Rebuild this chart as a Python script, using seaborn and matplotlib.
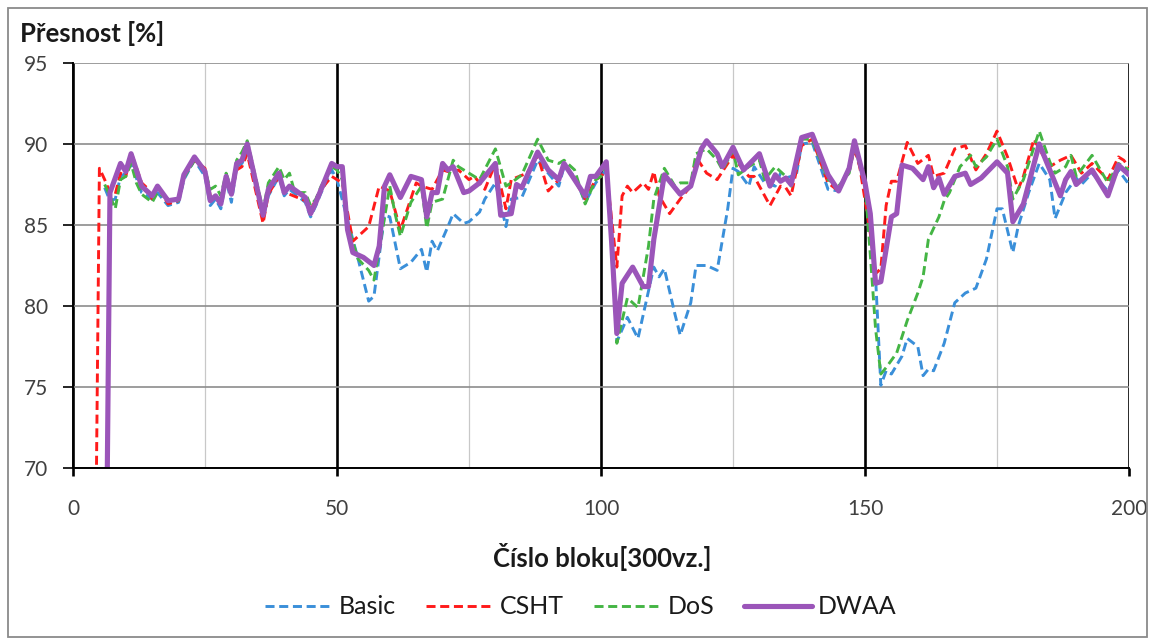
import matplotlib
matplotlib.use("Agg")
import matplotlib.pyplot as plt
import pandas as pd
import seaborn as sns
from matplotlib.lines import Line2D
from matplotlib.patches import Rectangle

# (číslo bloku, přesnost %)
basic = [
    (6, 87.3), (7, 86.5), (8, 86.6), (9, 88.0), (10, 88.2), (11, 88.8), (13, 87.0), (15, 86.6),
    (16, 87.0), (18, 86.2), (20, 86.4), (21, 87.8), (23, 89.0), (25, 88.0), (26, 86.2), (27, 86.6),
    (28, 86.0), (29, 87.8), (30, 86.4), (31, 88.6), (32, 88.8), (33, 89.6), (36, 85.4), (37, 86.8),
    (39, 88.0), (40, 86.8), (41, 87.2), (44, 86.4), (45, 85.5), (46, 86.2), (47, 87.0), (49, 88.4),
    (50, 87.8), (52, 85.3), (54, 82.9), (56, 80.3), (57, 80.6), (59, 85.6), (60, 85.5), (62, 82.3),
    (64, 82.7), (66, 83.5), (67, 82.1), (68, 84.0), (69, 83.4), (71, 84.9), (72, 85.7), (74, 85.1),
    (75, 85.2), (77, 85.8), (78, 86.6), (80, 87.6), (82, 84.9), (83, 86.6), (85, 86.7), (88, 89.0),
    (90, 88.2), (92, 87.4), (93, 88.6), (95, 88.0), (97, 86.4), (99, 87.6), (100, 88.0), (101, 88.4),
    (102, 84.9), (103, 77.8), (105, 79.3), (107, 78.0), (110, 82.4), (111, 81.8), (112, 82.3),
    (114, 79.5), (115, 78.2), (117, 80.2), (118, 82.5), (120, 82.5), (122, 82.2), (124, 86.0),
    (125, 88.5), (126, 88.3), (128, 87.4), (129, 88.6), (131, 87.6), (133, 87.4), (134, 88.2),
    (135, 87.9), (137, 88.1), (138, 90.0), (140, 90.1), (143, 87.2), (145, 87.1), (147, 88.6),
    (148, 89.9), (150, 87.4), (152, 81.8), (153, 75.1), (154, 76.0), (155, 75.8), (157, 76.9),
    (158, 78.0), (160, 77.5), (161, 75.7), (162, 76.1), (163, 76.0), (165, 77.7), (167, 80.2),
    (169, 80.8), (171, 81.1), (173, 82.9), (175, 86.0), (176, 86.0), (178, 83.3), (179, 84.9),
    (181, 87.0), (183, 88.8), (185, 87.8), (186, 85.4), (188, 87.0), (190, 87.9), (191, 87.5),
    (193, 88.2), (196, 87.1), (198, 88.4), (200, 87.5),
]

csht = [
    (4, 55.0), (5, 88.5), (6, 87.8), (7, 87.0), (8, 86.9), (9, 88.2), (10, 88.0), (11, 89.5),
    (13, 87.6), (14, 87.3), (15, 86.6), (16, 87.5), (18, 86.3), (20, 86.5), (21, 88.0), (23, 89.0),
    (25, 88.5), (26, 86.8), (27, 86.5), (28, 86.6), (29, 87.6), (30, 87.0), (31, 88.4), (32, 88.6),
    (33, 89.4), (36, 85.1), (37, 86.9), (39, 88.0), (40, 87.2), (41, 86.9), (44, 86.5), (45, 85.9),
    (46, 86.6), (47, 87.2), (49, 88.0), (50, 87.8), (51, 87.6), (53, 84.0), (54, 84.3), (56, 84.9),
    (58, 87.4), (60, 87.1), (62, 84.7), (65, 87.6), (66, 87.4), (68, 87.2), (70, 88.4), (72, 88.2),
    (73, 88.4), (75, 87.8), (76, 88.0), (78, 87.2), (80, 88.8), (82, 86.0), (83, 87.8), (86, 88.2),
    (88, 89.3), (90, 87.1), (92, 87.8), (93, 88.7), (95, 87.8), (97, 86.6), (99, 87.8), (100, 88.0),
    (101, 88.4), (103, 82.4), (104, 86.8), (105, 87.4), (106, 87.0), (108, 87.6), (109, 87.2),
    (110, 88.3), (111, 86.8), (113, 85.7), (115, 86.6), (117, 87.4), (118, 89.2), (120, 88.2),
    (122, 87.8), (125, 89.3), (126, 88.8), (128, 88.0), (129, 88.0), (132, 86.2), (134, 87.4),
    (135, 87.3), (136, 86.8), (138, 89.9), (140, 90.3), (143, 87.6), (145, 87.1), (147, 88.4),
    (148, 89.7), (149, 88.6), (151, 84.5), (152, 82.0), (153, 82.3), (154, 86.2), (155, 87.7),
    (156, 87.7), (158, 90.1), (160, 88.8), (162, 89.3), (163, 88.0), (165, 88.2), (167, 89.7),
    (169, 89.9), (171, 88.4), (173, 89.4), (175, 90.8), (177, 89.2), (179, 87.2), (180, 88.0),
    (182, 90.3), (183, 89.7), (185, 88.6), (187, 89.0), (189, 89.3), (191, 88.2), (193, 88.8),
    (196, 87.8), (198, 89.2), (199, 89.0), (200, 88.6),
]

dos = [
    (6, 87.5), (7, 86.8), (8, 86.0), (9, 87.8), (10, 88.0), (11, 88.8), (12, 87.6), (13, 86.9),
    (15, 86.4), (16, 87.0), (18, 86.6), (20, 86.5), (21, 87.9), (23, 89.0), (25, 88.4), (26, 87.2),
    (27, 87.4), (28, 86.8), (29, 88.2), (30, 87.2), (31, 89.0), (32, 89.5), (33, 90.2), (36, 85.9),
    (37, 87.6), (39, 88.6), (40, 87.8), (41, 88.2), (42, 87.0), (44, 87.0), (45, 86.2), (46, 86.6),
    (47, 87.4), (49, 88.6), (50, 88.4), (51, 87.8), (52, 85.0), (54, 82.9), (56, 82.2), (57, 81.6),
    (58, 83.5), (60, 87.4), (61, 85.7), (62, 84.3), (64, 86.4), (66, 87.4), (67, 84.8), (68, 86.4),
    (70, 86.6), (71, 87.8), (72, 89.0), (73, 88.6), (75, 88.2), (77, 87.8), (80, 89.7), (82, 87.4),
    (83, 87.6), (85, 88.1), (88, 90.3), (90, 89.0), (92, 88.8), (93, 89.0), (95, 88.4), (97, 86.3),
    (99, 87.8), (100, 88.0), (101, 88.6), (102, 84.5), (103, 77.7), (105, 80.5), (107, 79.9),
    (109, 83.7), (110, 86.6), (112, 88.5), (114, 87.4), (115, 87.6), (117, 87.6), (118, 89.4),
    (120, 89.7), (122, 89.0), (123, 88.4), (125, 89.6), (126, 88.1), (128, 88.6), (130, 89.0),
    (131, 87.8), (133, 88.6), (135, 88.0), (136, 87.4), (138, 90.3), (140, 90.3), (143, 87.8),
    (145, 87.4), (147, 88.2), (148, 89.9), (150, 87.5), (151, 83.2), (152, 78.6), (153, 75.8),
    (154, 76.2), (156, 77.1), (158, 79.1), (160, 80.8), (161, 81.8), (162, 84.1), (164, 85.5),
    (165, 86.5), (166, 87.0), (168, 88.6), (170, 89.3), (171, 88.6), (173, 89.2), (175, 90.3),
    (177, 88.6), (178, 86.6), (180, 87.8), (183, 90.8), (185, 88.9), (186, 88.2), (188, 88.6),
    (189, 89.3), (190, 88.0), (193, 89.3), (196, 87.6), (198, 88.8), (200, 88.4),
]

dwaa = [
    (6, 53.0), (7, 87.0), (9, 88.8), (10, 88.3), (11, 89.4), (13, 87.4), (15, 86.8), (16, 87.4),
    (18, 86.5), (20, 86.6), (21, 88.1), (23, 89.2), (25, 88.3), (26, 86.5), (27, 86.8), (28, 86.3),
    (29, 88.0), (30, 86.9), (31, 88.8), (32, 89.0), (33, 90.0), (36, 85.6), (37, 87.2), (39, 88.2),
    (40, 87.0), (41, 87.4), (44, 86.7), (45, 85.7), (46, 86.4), (47, 87.2), (49, 88.8), (50, 88.6),
    (51, 88.6), (52, 84.7), (53, 83.3), (55, 83.0), (57, 82.5), (58, 83.7), (59, 87.4), (60, 88.1),
    (62, 86.7), (64, 88.0), (66, 87.8), (67, 85.5), (68, 87.0), (69, 87.0), (70, 88.8), (71, 88.4),
    (72, 88.6), (74, 87.0), (75, 87.1), (77, 87.6), (80, 88.8), (81, 85.6), (83, 85.7), (84, 87.5),
    (85, 87.3), (88, 89.5), (90, 88.4), (92, 87.8), (93, 88.8), (95, 87.8), (97, 86.8), (98, 88.0),
    (99, 88.0), (101, 88.9), (102, 84.0), (103, 78.3), (104, 81.4), (106, 82.4), (108, 81.2),
    (109, 81.2), (110, 84.1), (112, 88.1), (114, 87.3), (115, 86.9), (117, 87.4), (119, 89.7),
    (120, 90.2), (122, 89.4), (123, 88.6), (125, 89.8), (127, 88.4), (130, 89.4), (132, 87.4),
    (133, 88.1), (134, 87.7), (135, 87.9), (136, 87.5), (138, 90.4), (140, 90.6), (143, 88.1),
    (145, 87.1), (147, 88.5), (148, 90.2), (150, 87.6), (151, 85.7), (152, 81.4), (153, 81.5),
    (155, 85.5), (156, 85.7), (157, 88.7), (159, 88.5), (161, 87.8), (162, 88.6), (163, 87.3),
    (164, 87.9), (165, 86.9), (167, 88.0), (169, 88.2), (170, 87.5), (172, 87.9), (175, 88.9),
    (177, 88.2), (178, 85.2), (180, 86.3), (183, 90.0), (185, 88.4), (187, 86.8), (188, 87.8),
    (189, 88.3), (190, 87.5), (193, 88.4), (196, 86.8), (198, 88.7), (200, 88.1),
]

metody = ["Basic", "CSHT", "DoS", "DWAA"]
barvy = {"Basic": "#3a8fd9", "CSHT": "#ff1a1a", "DoS": "#44b544", "DWAA": "#9b55b9"}
carkovane = (0, (3.1, 1.6))

sns.set_style("white")
plt.rcParams["font.family"] = ["Lato", "DejaVu Sans"]

W, H = 1151, 642
fig = plt.figure(figsize=(W / 100, H / 100), dpi=100)
ax = fig.add_axes([73 / W, 1 - 468 / H, (1129 - 73) / W, (468 - 63) / H])

frames = []
for name, pts in zip(metody, [basic, csht, dos, dwaa]):
    df = pd.DataFrame(pts, columns=["blok", "presnost"])
    df["metoda"] = name
    frames.append(df)
data = pd.concat(frames, ignore_index=True)

handles = []
for name in metody:
    sub = data[data["metoda"] == name]
    if name == "DWAA":
        ls, lw = "-", 3.7
    else:
        ls, lw = carkovane, 2.1
    sns.lineplot(
        data=sub, x="blok", y="presnost", ax=ax, color=barvy[name],
        linewidth=lw, linestyle=ls, estimator=None, sort=False, legend=False,
    )
    handles.append(Line2D([0], [0], color=barvy[name], lw=lw, linestyle=ls))

ax.set_xlim(0, 200)
ax.set_ylim(70, 95)
ax.set_yticks(range(70, 96, 5))
ax.set_xticks([0, 50, 100, 150, 200])
ax.set_xticks([25, 75, 125, 175], minor=True)
ax.set_axisbelow(True)
ax.grid(axis="y", which="major", color="#8c8c8c", lw=1.2)
ax.grid(axis="x", which="major", color="black", lw=1.9)
ax.grid(axis="x", which="minor", color="#c8c8c8", lw=0.9)

for side in ["top", "right"]:
    ax.spines[side].set_visible(False)
for side in ["left", "bottom"]:
    ax.spines[side].set_color("black")
    ax.spines[side].set_linewidth(1.4)

ax.tick_params(axis="y", which="major", left=True, length=7, width=1.2, color="black",
               pad=11, labelsize=15, labelcolor="#404040")
ax.tick_params(axis="x", which="major", bottom=True, length=6, width=1.9, color="black",
               pad=16, labelsize=15, labelcolor="#404040")
ax.tick_params(axis="x", which="minor", length=0)
ax.set_xlabel("")
ax.set_ylabel("")

fig.text(20 / W, 1 - 42 / H, "Přesnost [%]", fontsize=18.5, fontweight="bold",
         ha="left", va="baseline", color="#1a1a1a")
fig.text(602 / W, 1 - 567 / H, "Číslo bloku[300vz.]", fontsize=18.5, fontweight="bold",
         ha="center", va="baseline", color="#1a1a1a")

fig.legend(handles, metody, loc="center", bbox_to_anchor=(581 / W, 1 - 607 / H), ncol=4,
           frameon=False, fontsize=18, handlelength=2.7, handletextpad=0.25,
           columnspacing=1.2, labelcolor="#1a1a1a")

fig.patches.append(Rectangle((8 / W, 5 / H), 1139 / W, 629 / H, transform=fig.transFigure,
                             fill=False, edgecolor="#8a8a8a", lw=1.3))

fig.savefig("out.png", dpi=100)
